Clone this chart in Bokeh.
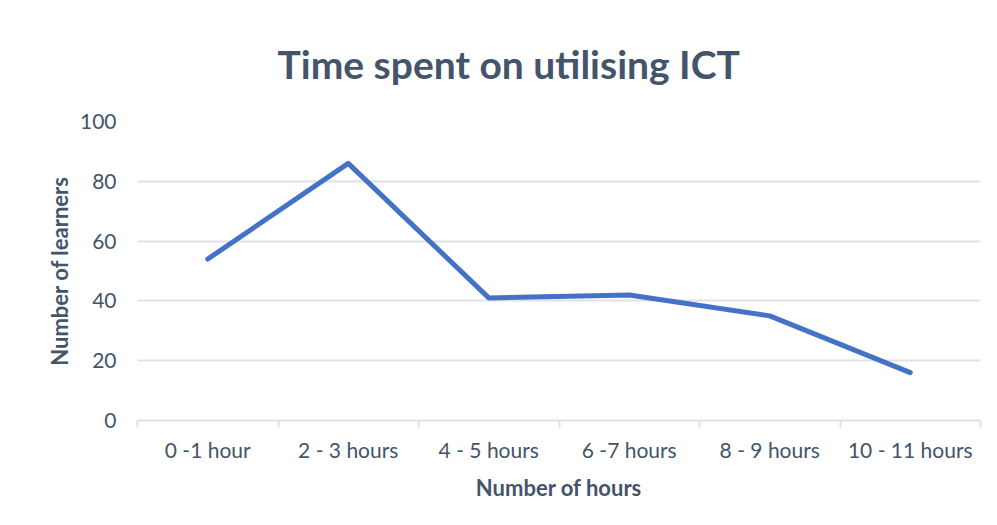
from bokeh.plotting import figure
from bokeh.models import Range1d, FixedTicker
from bokeh.embed import file_html
from bokeh.resources import INLINE

categories = ["0 -1 hour", "2 - 3 hours", "4 - 5 hours", "6 -7 hours", "8 - 9 hours", "10 - 11 hours"]
learners = [54, 86, 41, 42, 35, 16]
y_ticks = [0, 20, 40, 60, 80, 100]

centers = [i + 0.5 for i in range(len(categories))]
bounds = [float(i) for i in range(len(categories) + 1)]

TEXT = "#44546A"
GRID = "#DEE2E8"
FONT = "Lato"

p = figure(width=995, height=523, output_backend="svg", toolbar_location=None,
           x_range=Range1d(0, len(categories)), y_range=Range1d(0, 100),
           title="Time spent on utilising ICT")
p.min_border_left = 137
p.min_border_right = 15
p.min_border_top = 121
p.min_border_bottom = 103
p.outline_line_color = None
p.background_fill_color = "white"
p.border_fill_color = "white"

p.title.text_font = FONT
p.title.text_font_size = "39px"
p.title.text_font_style = "bold"
p.title.text_color = TEXT
p.title.align = "left"
p.title.offset = 140
p.title.standoff = 66
p.title.vertical_align = "top"

p.line(centers, learners, line_color="#4472C4", line_width=5, line_cap="round", line_join="round")

# x axis
xa = p.xaxis[0]
xa.ticker = FixedTicker(ticks=centers, minor_ticks=bounds)
xa.major_label_overrides = {c: lab for c, lab in zip(centers, categories)}
xa.major_tick_line_color = None
xa.major_tick_out = 0
xa.minor_tick_line_color = GRID
xa.minor_tick_line_width = 2
xa.minor_tick_out = 7
xa.minor_tick_in = 0
xa.axis_line_color = GRID
xa.axis_line_width = 2
xa.major_label_text_font = FONT
xa.major_label_text_font_size = "21px"
xa.major_label_text_color = TEXT
xa.major_label_standoff = 9
xa.axis_label = "Number of hours"
xa.axis_label_text_font = FONT
xa.axis_label_text_font_size = "22px"
xa.axis_label_text_font_style = "bold"
xa.axis_label_text_color = TEXT
xa.axis_label_standoff = 9

# y axis
ya = p.yaxis[0]
ya.ticker = FixedTicker(ticks=y_ticks)
ya.axis_line_color = None
ya.major_tick_line_color = None
ya.major_tick_out = 0
ya.minor_tick_line_color = None
ya.major_label_text_font = FONT
ya.major_label_text_font_size = "21px"
ya.major_label_text_color = TEXT
ya.major_label_standoff = 21
ya.axis_label = "Number of learners"
ya.axis_label_text_font = FONT
ya.axis_label_text_font_size = "22px"
ya.axis_label_text_font_style = "bold"
ya.axis_label_text_color = TEXT
ya.axis_label_standoff = 4

p.xgrid.grid_line_color = None
p.ygrid.grid_line_color = GRID
p.ygrid.grid_line_width = 2

open("out.html", "w").write(file_html(p, INLINE))
